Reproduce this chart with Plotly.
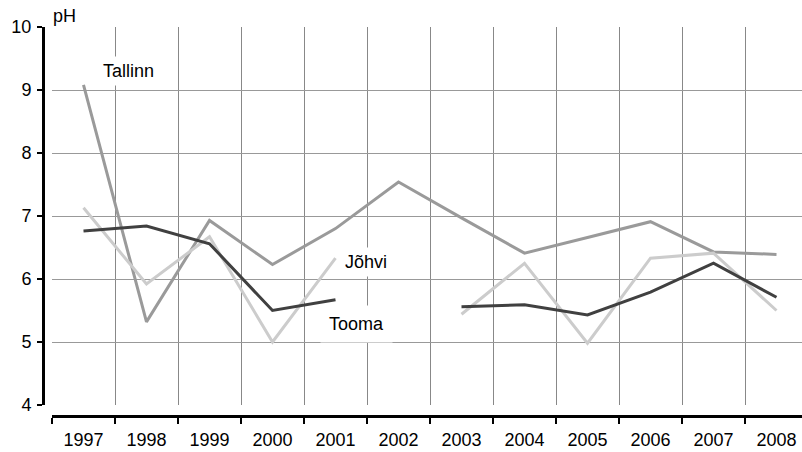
import plotly.graph_objects as go

years = [str(y) for y in range(1997, 2009)]
tallinn = [9.08, 5.32, 6.93, 6.23, 6.80, 7.54, 6.97, 6.41, 6.66, 6.91, 6.43, 6.39]
tooma = [6.76, 6.84, 6.56, 5.50, 5.67, None, 5.56, 5.59, 5.43, 5.79, 6.25, 5.71]
johvi = [7.13, 5.92, 6.67, 5.00, 6.33, None, 5.44, 6.25, 4.98, 6.33, 6.41, 5.50]

W, H = 802, 452
FONT = "Liberation Sans, Arial, sans-serif"


def px(x):
    return x / W


def py(y):
    return 1 - y / H


fig = go.Figure()
for name, vals, color in [
    ("Tallinn", tallinn, "#9a9a9a"),
    ("Jõhvi", johvi, "#cccccc"),
    ("Tooma", tooma, "#404040"),
]:
    fig.add_trace(
        go.Scatter(
            x=years,
            y=vals,
            name=name,
            mode="lines",
            line=dict(color=color, width=3),
            connectgaps=False,
        )
    )

# series labels with white boxes (they hide the grid behind them)
labels = [("Tallinn", 128, 71, 4), ("Jõhvi", 366, 262, 4), ("Tooma", 356, 324, 8)]
for text, lx, ly, pad in labels:
    fig.add_annotation(
        text=text,
        xref="paper",
        yref="paper",
        x=px(lx),
        y=py(ly),
        xanchor="center",
        yanchor="middle",
        showarrow=False,
        font=dict(size=18, color="#000000", family=FONT),
        bgcolor="white",
        borderpad=pad,
    )

fig.add_annotation(
    text="pH",
    xref="paper",
    yref="paper",
    x=px(51),
    y=py(16),
    xanchor="left",
    yanchor="middle",
    showarrow=False,
    font=dict(size=18, color="#000000", family=FONT),
)

fig.update_layout(
    width=W,
    height=H,
    margin=dict(l=0, r=0, t=0, b=0),
    paper_bgcolor="white",
    plot_bgcolor="white",
    showlegend=False,
    font=dict(family=FONT, size=18, color="#000000"),
    xaxis=dict(
        type="category",
        domain=[px(52), 1],
        range=[-0.5, -0.5 + 750 / 63],
        anchor="free",
        position=py(416),
        tickson="boundaries",
        ticks="outside",
        ticklen=6,
        tickwidth=2,
        tickcolor="#000000",
        ticklabelstandoff=6,
        showline=True,
        linecolor="#000000",
        linewidth=3,
        showgrid=True,
        gridcolor="#888888",
        gridwidth=1,
        zeroline=False,
        automargin=False,
    ),
    yaxis=dict(
        domain=[py(405), py(27)],
        range=[4, 10],
        dtick=1,
        anchor="free",
        position=px(43),
        ticks="outside",
        ticklen=5,
        tickwidth=2,
        tickcolor="#000000",
        ticklabelstandoff=2,
        showline=True,
        linecolor="#000000",
        linewidth=3,
        showgrid=True,
        gridcolor="#999999",
        gridwidth=1,
        zeroline=False,
        automargin=False,
    ),
)

# drop the browser's default 8px body margin so the figure sits at the window corner
fig.write_html(
    "out.html",
    config={"displayModeBar": False},
    post_script="document.body.style.margin = '0';",
)
